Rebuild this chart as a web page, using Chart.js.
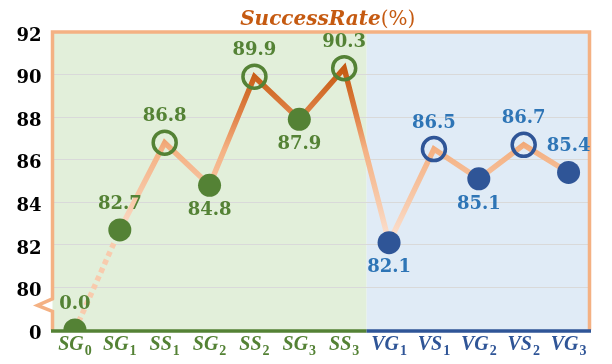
<!DOCTYPE html>
<html><head><meta charset="utf-8">
<script src="https://cdn.jsdelivr.net/npm/chart.js@4/dist/chart.umd.min.js"></script>
<style>html,body{margin:0;padding:0;background:#fff;}canvas{display:block;}</style>
</head><body>
<canvas id="c" width="612" height="364"></canvas>
<script>
// ---- data ----
const categories = ['SG0','SG1','SS1','SG2','SS2','SG3','SS3','VG1','VS1','VG2','VS2','VG3'];
const successRate = [0.0, 82.7, 86.8, 84.8, 89.9, 87.9, 90.3, 82.1, 86.5, 85.1, 86.7, 85.4];
const yTickValues = [0, 80, 82, 84, 86, 88, 90, 92];
const titleMain = 'SuccessRate';
const titleUnit = '(%)';

// ---- broken axis: values below 80 are drawn at the break base ----
const BREAK_LOW = 80, BREAK_BASE = 78;
const toAxis = v => v < BREAK_LOW ? BREAK_BASE + v * 0 : v;
const fromAxis = v => v <= BREAK_BASE ? '0' : String(v);

// ---- styles ----
const GREEN = '#548235', BLUE = '#2f5597', BLUE_TXT = '#2e75b6', ORANGE = '#f4b183';
const labelSide = ['up','up','up','down','up','down','up','down','up','down','up','up'];
const isHollow = i => categories[i][1] === 'S';
const groupColor = i => categories[i][0] === 'S' ? GREEN : BLUE;

function lineGradient(ctx){
  const chart = ctx.chart;
  if(!chart.chartArea) return ORANGE;
  const y = chart.scales.y;
  const g = chart.ctx.createLinearGradient(0, y.getPixelForValue(90.3), 0, y.getPixelForValue(82));
  g.addColorStop(0, '#c55a11');
  g.addColorStop(0.28, '#e2844a');
  g.addColorStop(0.46, '#f4b183');
  g.addColorStop(0.77, '#f8cbad');
  g.addColorStop(1, '#fce4d6');
  return g;
}

const decor = {
  id:'decor',
  beforeDraw(chart){
    const {ctx, chartArea:a, scales:{x}} = chart;
    const mid = (x.getPixelForValue(6) + x.getPixelForValue(7)) / 2;
    ctx.save();
    ctx.fillStyle = '#e2efda';
    ctx.fillRect(a.left, a.top, mid - a.left, a.bottom - a.top);
    ctx.fillStyle = '#e0ebf6';
    ctx.fillRect(mid, a.top, a.right - mid, a.bottom - a.top);
    ctx.restore();
  },
  beforeDatasetsDraw(chart){
    const {ctx, chartArea:a, scales:{x, y}} = chart;
    const mid = (x.getPixelForValue(6) + x.getPixelForValue(7)) / 2;
    const y80 = y.getPixelForValue(80);
    ctx.save();
    // orange frame with axis-break zigzag
    ctx.strokeStyle = ORANGE; ctx.lineWidth = 3.5; ctx.lineJoin = 'miter';
    ctx.beginPath();
    ctx.moveTo(a.left, a.bottom);
    ctx.lineTo(a.left, y80 + 24);
    ctx.lineTo(a.left - 15, y80 + 18);
    ctx.lineTo(a.left + 1, y80 + 11);
    ctx.moveTo(a.left, y80 + 12);
    ctx.lineTo(a.left, a.top);
    ctx.lineTo(a.right - 1.5, a.top);
    ctx.lineTo(a.right - 1.5, a.bottom);
    ctx.stroke();
    // bottom axis
    ctx.lineWidth = 3.5;
    ctx.strokeStyle = GREEN;
    ctx.beginPath(); ctx.moveTo(a.left - 1.5, a.bottom + 1); ctx.lineTo(mid, a.bottom + 1); ctx.stroke();
    ctx.strokeStyle = BLUE;
    ctx.beginPath(); ctx.moveTo(mid, a.bottom + 1); ctx.lineTo(a.right, a.bottom + 1); ctx.stroke();
    ctx.restore();
  },
  afterDatasetsDraw(chart){
    const {ctx} = chart;
    const meta = chart.getDatasetMeta(0);
    ctx.save();
    ctx.font = 'bold 18px "DejaVu Serif"';
    ctx.textAlign = 'center'; ctx.textBaseline = 'middle';
    meta.data.forEach((pt, i) => {
      ctx.fillStyle = categories[i][0] === 'S' ? GREEN : BLUE_TXT;
      const dy = labelSide[i] === 'up' ? -26 : 25;
      ctx.fillText(successRate[i].toFixed(1), pt.x, pt.y + dy);
    });
    ctx.restore();
  },
  afterDraw(chart){
    const {ctx, chartArea:a, scales:{x}} = chart;
    ctx.save();
    ctx.textBaseline = 'alphabetic'; ctx.textAlign = 'left';
    const MAIN = 'italic bold 20px "Liberation Serif"', SUB = 'bold 14px "Liberation Serif"';
    categories.forEach((name, i) => {
      const cx = x.getPixelForValue(i);
      const main = name.slice(0, -1), sub = name.slice(-1);
      ctx.font = MAIN;
      const w1 = ctx.measureText(main).width;
      ctx.font = SUB;
      const w2 = ctx.measureText(sub).width;
      const sx = cx - (w1 + w2 + 1) / 2;
      ctx.fillStyle = groupColor(i);
      ctx.font = MAIN;
      ctx.fillText(main, sx, a.bottom + 19.5);
      ctx.font = SUB;
      ctx.fillText(sub, sx + w1 + 1, a.bottom + 25);
    });
    // title
    const cx = (a.left + a.right) / 2 + 6;
    ctx.fillStyle = '#c55a11';
    const TB = 'italic bold 20px "DejaVu Serif"', TR = '20px "DejaVu Serif"';
    ctx.font = TB;
    const tw1 = ctx.measureText(titleMain).width;
    ctx.font = TR;
    const tw2 = ctx.measureText(titleUnit).width;
    const tx = cx - (tw1 + tw2) / 2;
    ctx.font = TB;
    ctx.fillText(titleMain, tx, 25);
    ctx.font = TR;
    ctx.fillText(titleUnit, tx + tw1, 25);
    ctx.restore();
  }
};

new Chart(document.getElementById('c'), {
  type: 'line',
  data: {
    labels: categories,
    datasets: [{
      data: successRate.map(toAxis),
      borderWidth: 5.5,
      borderColor: lineGradient,
      borderCapStyle: 'butt',
      segment: {
        borderDash: c => c.p0DataIndex === 0 ? [5, 4] : undefined,
        borderColor: c => c.p0DataIndex === 0 ? '#f8cbad' : undefined
      },
      tension: 0,
      fill: false,
      pointRadius: 11.5,
      pointHoverRadius: 11.5,
      pointBorderWidth: c => isHollow(c.dataIndex) ? 3.5 : 0,
      pointBorderColor: c => groupColor(c.dataIndex),
      pointBackgroundColor: c => isHollow(c.dataIndex) ? 'rgba(0,0,0,0)' : groupColor(c.dataIndex)
    }]
  },
  options: {
    responsive: false,
    animation: false,
    devicePixelRatio: 1,
    layout: { padding: { top: 32, right: 21, left: 0, bottom: 0 } },
    plugins: { legend: { display: false }, tooltip: { enabled: false }, title: { display: false } },
    scales: {
      x: {
        offset: true,
        grid: { display: false },
        border: { display: false },
        ticks: { display: false },
        afterFit(s){ s.height = 34; }
      },
      y: {
        min: BREAK_BASE, max: 92,
        afterBuildTicks(s){ s.ticks = yTickValues.map(v => ({ value: toAxis(v) })); },
        afterFit(s){ s.width = 52.5; },
        border: { display: false },
        grid: { drawTicks: false, lineWidth: 1, color: c => (c.tick && c.tick.value === BREAK_BASE) ? 'rgba(0,0,0,0)' : '#d9d9d9' },
        ticks: {
          padding: 11, color: '#000', labelOffset: 4,
          font: { family: 'DejaVu Serif', weight: 'bold', size: 18 },
          callback: v => fromAxis(v)
        }
      }
    }
  },
  plugins: [decor]
});
</script>
</body></html>
